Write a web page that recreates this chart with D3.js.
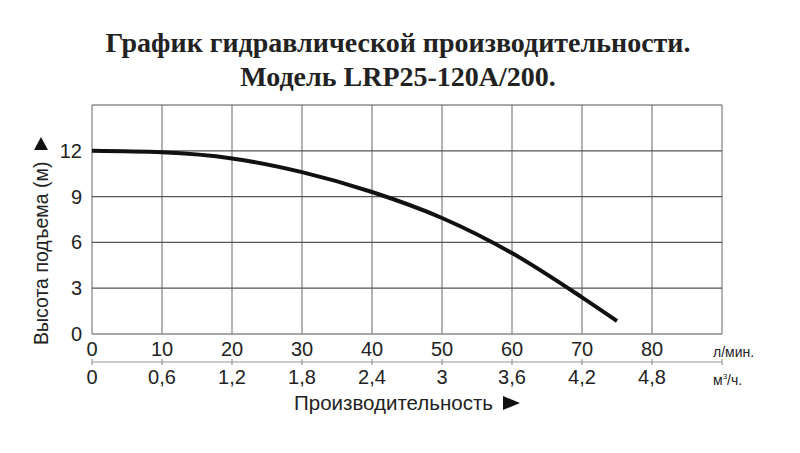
<!DOCTYPE html>
<html><head><meta charset="utf-8">
<script src="https://cdn.jsdelivr.net/npm/d3@7"></script>
<style>body{margin:0;background:#fff}</style></head>
<body><svg id="c" width="800" height="453"></svg>
<script>
const flowLpm = [0, 10, 20, 30, 40, 50, 60, 70, 75];
const headM = [12.0, 11.9, 11.5, 10.6, 9.3, 7.6, 5.3, 2.4, 0.85];
const xTicksLpm = [0, 10, 20, 30, 40, 50, 60, 70, 80];
const xTicksM3h = ["0", "0,6", "1,2", "1,8", "2,4", "3", "3,6", "4,2", "4,8"];
const yTicks = [0, 3, 6, 9, 12];
const titleLines = ["График гидравлической производительности.", "Модель LRP25-120A/200."];

const svg = d3.select("#c");
const L = 92, R = 722, T = 105, B = 334;
const x = d3.scaleLinear().domain([0, 90]).range([L, R]);
const y = d3.scaleLinear().domain([0, 15]).range([B, T]);
const sans = "'Liberation Sans', Arial, sans-serif";

// title
svg.selectAll("text.title").data(titleLines).enter().append("text")
  .attr("x", 398).attr("y", (d, i) => 52 + i * 34)
  .attr("text-anchor", "middle")
  .attr("font-family", "'Liberation Serif', 'Times New Roman', serif")
  .attr("font-weight", "bold").attr("font-size", 28).attr("fill", "#222")
  .text(d => d);

// grid
const g = svg.append("g");
g.selectAll("line.v").data(d3.range(0, 100, 10)).enter().append("line")
  .attr("x1", d => x(d)).attr("x2", d => x(d)).attr("y1", T).attr("y2", B)
  .attr("stroke", "#999").attr("stroke-width", 1.5);
g.selectAll("line.h").data([3, 6, 9, 12, 15]).enter().append("line")
  .attr("x1", L).attr("x2", R).attr("y1", d => y(d)).attr("y2", d => y(d))
  .attr("stroke", "#555").attr("stroke-width", 1.2);
g.append("line").attr("x1", L).attr("x2", R).attr("y1", B).attr("y2", B)
  .attr("stroke", "#888").attr("stroke-width", 1.5);

// y tick labels
svg.selectAll("text.yt").data(yTicks).enter().append("text")
  .attr("x", 82).attr("y", d => y(d) + 7).attr("text-anchor", "end")
  .attr("font-family", sans).attr("font-size", 20).attr("fill", "#222")
  .text(d => d);

// x axis 1 labels
svg.selectAll("text.xt").data(xTicksLpm).enter().append("text")
  .attr("x", d => x(d)).attr("y", 356).attr("text-anchor", "middle")
  .attr("font-family", sans).attr("font-size", 20).attr("fill", "#222")
  .text(d => d);
svg.append("text").attr("x", 713).attr("y", 357)
  .attr("font-family", sans).attr("font-size", 14).attr("fill", "#222").text("л/мин.");

// second axis
svg.append("line").attr("x1", L).attr("x2", R).attr("y1", 362).attr("y2", 362)
  .attr("stroke", "#999").attr("stroke-width", 1.2);
svg.selectAll("line.t2").data(xTicksLpm.concat([90])).enter().append("line")
  .attr("x1", d => x(d)).attr("x2", d => x(d)).attr("y1", 359).attr("y2", 365)
  .attr("stroke", "#999").attr("stroke-width", 1.2);
svg.selectAll("text.xt2").data(xTicksLpm).enter().append("text")
  .attr("x", d => x(d)).attr("y", 384).attr("text-anchor", "middle")
  .attr("font-family", sans).attr("font-size", 20).attr("fill", "#222")
  .text((d, i) => xTicksM3h[i]);
const m3 = svg.append("text").attr("x", 713).attr("y", 385)
  .attr("font-family", sans).attr("font-size", 14).attr("fill", "#222");
m3.append("tspan").text("м");
m3.append("tspan").attr("font-size", 8).attr("dy", -6).text("3");
m3.append("tspan").attr("dy", 6).text("/ч.");

// axis titles
svg.append("text").attr("x", 294).attr("y", 410)
  .attr("font-family", sans).attr("font-size", 20.5).attr("fill", "#222")
  .text("Производительность");
svg.append("path").attr("d", "M503,396 L520,403 L503,410 Z").attr("fill", "#111");

svg.append("text").attr("transform", "translate(48,345) rotate(-90)")
  .attr("text-anchor", "start")
  .attr("font-family", sans).attr("font-size", 19.5).attr("fill", "#222")
  .text("Высота подъема (м)");
svg.append("path").attr("d", "M34,150 L41,137 L48,150 Z").attr("fill", "#111");

// curve
const line = d3.line().x((d, i) => x(flowLpm[i])).y(d => y(d)).curve(d3.curveMonotoneX);
svg.append("path").attr("d", line(headM)).attr("fill", "none")
  .attr("stroke", "#111").attr("stroke-width", 4);
</script></body></html>
